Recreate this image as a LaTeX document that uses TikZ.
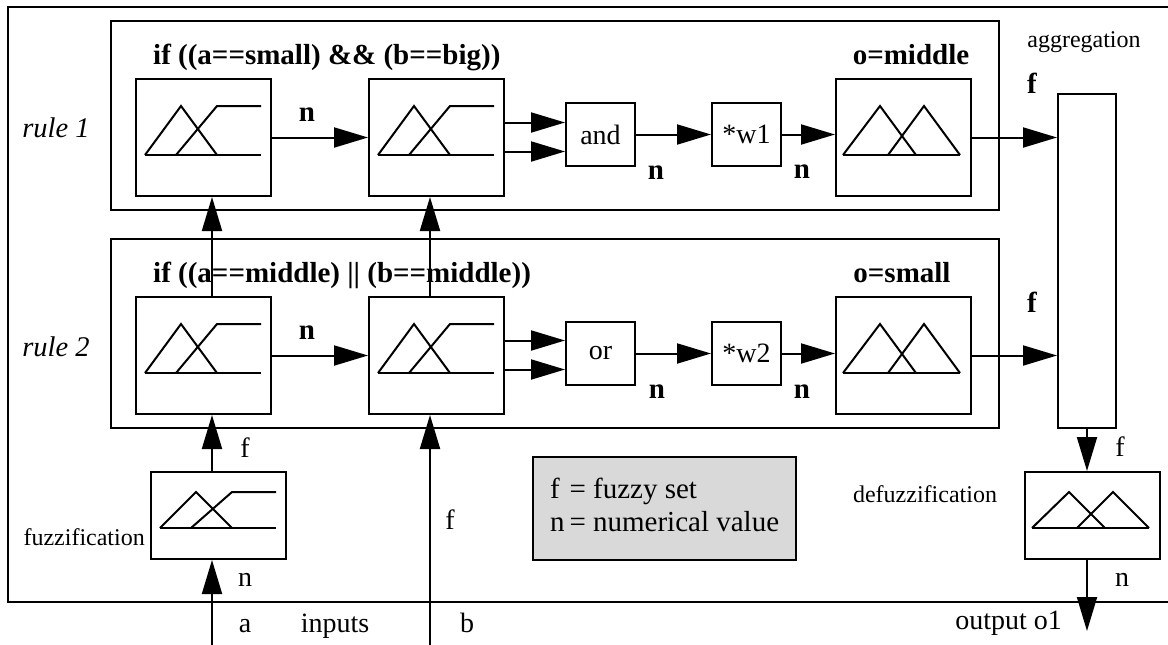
\documentclass[tikz,border=0pt]{standalone}
\usepackage{fontspec}
\setmainfont{Liberation Serif}
\usetikzlibrary{arrows.meta,calc}
\tikzset{
  lw/.style={line width=2pt},
  fbox/.style={draw,lw,minimum width=135pt,minimum height=117pt,inner sep=0pt},
  rulebox/.style={draw,lw,minimum width=888pt,minimum height=189pt,inner sep=0pt},
  opbox/.style={draw,lw,minimum width=69pt,minimum height=63pt,inner sep=0pt,font=\fontsize{28}{33}\selectfont},
  arr/.style={lw,-{Triangle[length=34pt,width=20pt]}},
  txt/.style={inner sep=0pt,font=\fontsize{28}{33}\selectfont},
  btxt/.style={inner sep=0pt,font=\fontsize{29}{33}\selectfont\bfseries},
  itxt/.style={inner sep=0pt,font=\fontsize{28.5}{33}\selectfont\itshape},
  stxt/.style={inner sep=0pt,font=\fontsize{24}{28}\selectfont},
}
% input membership functions: triangle + ramp
\newcommand\fzin[3]{%
  \draw[lw] ([shift={(10,#3)}]#1.north west) -- ([shift={(46,#2)}]#1.north west) -- ([shift={(82,#3)}]#1.north west);
  \draw[lw] ([shift={(41,#3)}]#1.north west) -- ([shift={(82,#2)}]#1.north west) -- ([shift={(126,#2)}]#1.north west);
  \draw[lw] ([shift={(10,#3)}]#1.north west) -- ([shift={(126,#3)}]#1.north west);
}
% output membership functions: two triangles
\newcommand\fzout[3]{%
  \draw[lw] ([shift={(8,#3)}]#1.north west) -- ([shift={(45,#2)}]#1.north west) -- ([shift={(81,#3)}]#1.north west);
  \draw[lw] ([shift={(53,#3)}]#1.north west) -- ([shift={(89,#2)}]#1.north west) -- ([shift={(125,#3)}]#1.north west);
  \draw[lw] ([shift={(8,#3)}]#1.north west) -- ([shift={(125,#3)}]#1.north west);
}
\begin{document}
\begin{tikzpicture}[x=1pt,y=-1pt]
\useasboundingbox (0,0) rectangle (1168,645);
% outer frame
\draw[lw] (8,7) rectangle (1180,602);
% rule boxes
\node[rulebox] (r1) at (555,115.5) {};
\node[rulebox] (r2) at (555,333.5) {};
% rule 1 row
\node[fbox] (A1) at (203.5,137.5) {};
\node[fbox] (B1) at (436.5,137.5) {};
\node[opbox] (and) at (600.5,134.5) {and};
\node[opbox] (w1) at (746.5,134.5) {*w1};
\node[fbox] (C1) at (903.5,137.5) {};
% rule 2 row
\node[fbox] (A2) at (203.5,355.5) {};
\node[fbox] (B2) at (436.5,355.5) {};
\node[opbox] (or) at (600.5,353.5) {or};
\node[opbox] (w2) at (746.5,353.5) {*w2};
\node[fbox] (C2) at (903.5,355.5) {};
% aggregation
\node[draw,lw,minimum width=58pt,minimum height=334pt,inner sep=0pt] (agg) at (1087,261) {};
% fuzzification / defuzzification
\node[fbox,minimum height=87pt] (fuzz) at (218.5,515.5) {};
\node[fbox,minimum height=87pt] (defuzz) at (1092.5,515.5) {};
% legend
\node[draw,lw,fill=black!15,minimum width=263pt,minimum height=103pt,inner sep=0pt] (legend) at (664.5,508.5) {};
\node[inner sep=0pt,font=\fontsize{29}{33}\selectfont,anchor=west] (legtext) at (550,508.5) {\begin{tabular}{@{}l@{\,}l@{}}f & = fuzzy set\\[0pt] n & = numerical value\end{tabular}};

% membership graphics
\fzin{A1}{28}{77}
\fzin{B1}{28}{77}
\fzin{A2}{28}{77}
\fzin{B2}{28}{77}
\fzin{fuzz}{21}{57}
\fzout{C1}{28}{77}
\fzout{C2}{28}{77}
\fzout{defuzz}{21}{57}

% free ends
\coordinate (ina) at (212,645);
\coordinate (inb) at (430,645);
\coordinate (out) at (1087,631);

% input arrows
\draw[arr] (ina) -- (ina |- fuzz.south);
\draw[arr] (fuzz.north -| ina) -- (ina |- A2.south);
\draw[arr] (A2.north -| ina) -- (ina |- A1.south);
\draw[arr] (inb) -- (inb |- B2.south);
\draw[arr] (B2.north -| inb) -- (inb |- B1.south);

% rule 1 connections
\draw[arr] (A1.east) -- (B1.west);
\draw[arr] ([yshift=15pt]B1.east) -- ([yshift=15pt]B1.east -| and.west);
\draw[arr] ([yshift=-14pt]B1.east) -- ([yshift=-14pt]B1.east -| and.west);
\draw[arr] (and.east) -- (w1.west);
\draw[arr] (w1.east) -- (w1.east -| C1.west);
\draw[arr] (C1.east) -- (C1.east -| agg.west);
% rule 2 connections
\draw[arr] (A2.east) -- (B2.west);
\draw[arr] ([yshift=15pt]B2.east) -- ([yshift=15pt]B2.east -| or.west);
\draw[arr] ([yshift=-14pt]B2.east) -- ([yshift=-14pt]B2.east -| or.west);
\draw[arr] (or.east) -- (w2.west);
\draw[arr] (w2.east) -- (w2.east -| C2.west);
\draw[arr] (C2.east) -- (C2.east -| agg.west);
% output
\draw[arr] (agg.south) -- (agg.south |- defuzz.north);
\draw[arr] (defuzz.south -| out) -- (out);

% labels
\node[itxt] (lr1) at (56,128) {rule 1};
\node[itxt] (lr2) at (56,347) {rule 2};
\node[btxt,anchor=west] (t1) at (153,57) {if ((a==small) \&\& (b==big))};
\node[btxt,anchor=west] (t2) at (153,275) {if ((a==middle) || (b==middle))};
\node[btxt] (o1) at (911,55) {o=middle};
\node[btxt] (o2) at (902,273) {o=small};
\node[btxt] (n1) at (307,115) {n};
\node[btxt] (n2) at (656,173) {n};
\node[btxt] (n3) at (802,172) {n};
\node[btxt] (n4) at (307,333) {n};
\node[btxt] (n5) at (657,392) {n};
\node[btxt] (n6) at (802,392) {n};
\node[btxt] (f1) at (1032,83) {f};
\node[btxt] (f2) at (1032,302) {f};
\node[stxt] (aggl) at (1084,42) {aggregation};
\node[txt] (fa) at (245,448) {f};
\node[txt] (na) at (245,580) {n};
\node[txt,anchor=base] (la) at (245,632) {a};
\node[txt,anchor=base] (linp) at (335,632) {inputs};
\node[txt,anchor=base] (lb) at (467,632) {b};
\node[txt] (fb) at (450,520) {f};
\node[stxt,anchor=east] (lfuzz) at (145,537) {fuzzification};
\node[stxt] (ldefuzz) at (925,494) {defuzzification};
\node[txt] (fo) at (1120,447) {f};
\node[txt] (no) at (1122,580) {n};
\node[txt,anchor=east] (lout) at (1062,623) {output o1};
\end{tikzpicture}
\end{document}
